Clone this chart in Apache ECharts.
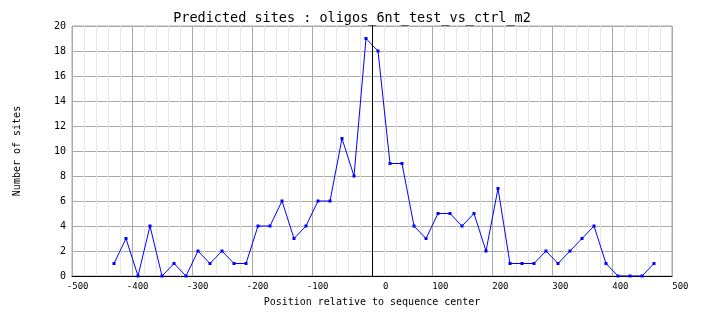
<!DOCTYPE html>
<html>
<head>
<meta charset="utf-8">
<script src="https://cdn.jsdelivr.net/npm/echarts@6/dist/echarts.min.js"></script>
<style>
  html, body { margin: 0; padding: 0; background: #ffffff; }
  #chart { width: 704px; height: 328px; }
</style>
</head>
<body>
<div id="chart"></div>
<script>
// Bin centres (position relative to sequence centre, bp)
var positions = [
  -430, -410, -390, -370, -350, -330, -310, -290, -270, -250,
  -230, -210, -190, -170, -150, -130, -110, -90, -70, -50,
  -30, -10, 10, 30, 50, 70, 90, 110, 130, 150,
  170, 190, 210, 230, 250, 270, 290, 310, 330, 350,
  370, 390, 410, 430, 450, 470
];
// Number of predicted sites per bin
var siteCounts = [
  1, 3, 0, 4, 0, 1, 0, 2, 1, 2,
  1, 1, 4, 4, 6, 3, 4, 6, 6, 11,
  8, 19, 18, 9, 9, 4, 3, 5, 5, 4,
  5, 2, 7, 1, 1, 1, 2, 1, 2, 3,
  4, 1, 0, 0, 0, 1
];
var titleText = 'Predicted sites : oligos_6nt_test_vs_ctrl_m2';
var xAxisTitle = 'Position relative to sequence center';
var yAxisTitle = 'Number of sites';

var points = positions.map(function (p, i) { return [p, siteCounts[i]]; });

var mono = '"DejaVu Sans Mono", "Liberation Mono", monospace';
var chart = echarts.init(document.getElementById('chart'), null, { renderer: 'canvas' });

chart.setOption({
  animation: false,
  backgroundColor: '#ffffff',
  title: {
    text: titleText,
    left: 'center',
    top: 6,
    textStyle: { fontFamily: mono, fontSize: 13.5, fontWeight: 'normal', color: '#000000' }
  },
  grid: {
    left: 72, top: 26, width: 600, height: 250,
    show: true, borderColor: '#aaaaaa', borderWidth: 1
  },
  xAxis: {
    type: 'value',
    min: -500, max: 500, interval: 100,
    name: xAxisTitle,
    nameLocation: 'middle',
    nameGap: 21,
    nameTextStyle: { fontFamily: mono, fontSize: 10, color: '#000000' },
    axisLine: { show: true, onZero: false, lineStyle: { color: '#000000', width: 1 } },
    axisTick: { show: false },
    minorTick: { show: false, splitNumber: 5 },
    axisLabel: {
      margin: 6,
      align: 'center',
      formatter: function (v) { return '{v|' + v + '}'; },
      rich: { v: { width: 33, align: 'right', fontFamily: mono, fontSize: 9, color: '#000000' } }
    },
    splitLine: { show: true, lineStyle: { color: '#aaaaaa', width: 1 } },
    minorSplitLine: { show: true, lineStyle: { color: '#e6e6e6', width: 1 } }
  },
  yAxis: {
    type: 'value',
    min: 0, max: 20, interval: 2,
    name: yAxisTitle,
    nameLocation: 'middle',
    nameRotate: 90,
    nameGap: 50,
    nameTextStyle: { fontFamily: mono, fontSize: 10, color: '#000000' },
    axisLine: { show: true, lineStyle: { color: '#000000', width: 1 } },
    axisTick: { show: false },
    axisLabel: {
      margin: 6,
      fontFamily: mono, fontSize: 10, color: '#000000',
      padding: [6, 0, 0, 0]
    },
    splitLine: { show: true, lineStyle: { color: '#aaaaaa', width: 1 } }
  },
  series: [{
    type: 'line',
    data: points,
    symbol: 'rect',
    symbolSize: 3,
    showAllSymbol: true,
    lineStyle: { color: '#0000ff', width: 1 },
    itemStyle: { color: '#0000ff' },
    markLine: {
      silent: true,
      symbol: 'none',
      label: { show: false },
      lineStyle: { color: '#000000', width: 1, type: 'solid' },
      data: [{ xAxis: 0 }]
    }
  }]
});
</script>
</body>
</html>
